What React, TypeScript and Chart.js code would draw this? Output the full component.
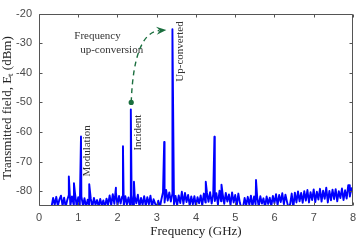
import React, { useEffect, useRef } from 'react';
import { Chart, registerables } from 'chart.js';

Chart.register(...registerables);

// ---- data ----
const noiseStartGHz = 0.32;
const noiseStepGHz = 0.04;
const noiseLevels = [
  -85.2, -82.3, -84.6, -81.9, -85.0, -82.8, -81.5, -84.9, -82.2, -85.3,
  -83.0, -81.3, -84.8, -81.8, -84.4, -81.0, -85.1, -82.0, -84.5, -81.8,
  -84.9, -82.4, -85.4, -82.9, -84.7, -82.6, -85.2, -82.3, -84.6, -83.0,
  -85.3, -82.6, -84.8, -83.1, -85.5, -82.5, -84.6, -81.4, -84.8, -81.0,
  -84.3, -80.4, -84.9, -81.6, -84.2, -81.8, -85.0, -81.7, -84.5, -82.1,
  -84.8, -81.3, -85.0, -81.8, -84.1, -81.2, -85.2, -82.3, -84.6, -81.7,
  -85.0, -82.0, -84.4, -81.5, -85.3, -82.7, -84.2, -85.4, -83.2, -85.5,
  -82.7, -80.3, -83.8, -79.6, -83.2, -80.4, -83.5, -80.8, -84.4, -81.6,
  -84.8, -81.4, -84.0, -80.2, -84.3, -80.6, -83.7, -81.3, -84.9, -81.8,
  -84.4, -81.7, -85.1, -82.0, -84.1, -81.4, -84.8, -80.8, -83.8, -80.5,
  -83.6, -80.3, -84.2, -81.0, -83.3, -80.7, -84.5, -79.8, -83.4, -80.9,
  -84.3, -80.6, -83.5, -81.1, -84.7, -80.4, -83.8, -81.3, -84.8, -80.8,
  -84.0, -85.8, -85.5, -82.3, -84.8, -81.9, -84.6, -81.5, -85.2, -81.8,
  -84.4, -82.0, -85.2, -81.7, -84.2, -82.4, -85.4, -81.8, -84.3, -82.2,
  -85.0, -81.6, -84.1, -81.0, -84.7, -81.3, -83.7, -80.7, -84.4, -81.2,
  -83.6, -85.8, -84.3, -80.8, -85.8, -80.5, -83.8, -80.1, -83.4, -80.6,
  -83.9, -80.0, -83.2, -79.6, -83.8, -80.3, -83.0, -79.4, -83.7, -80.2,
  -82.8, -79.2, -83.5, -79.8, -82.6, -78.8, -83.8, -79.9, -83.1, -79.5,
  -82.7, -79.3, -83.4, -80.0, -82.3, -79.1, -83.0, -79.7, -82.5, -78.0,
  -81.8, -79.0, -80.5,
];
const peakFreqs = [0.76, 0.89, 1.07, 1.28, 1.96, 2.14, 2.34, 2.42, 3.19, 3.40, 4.25, 4.47, 4.65, 5.53, 7.9];
const peakLevels = [-75.0, -77.3, -61.5, -77.6, -78.8, -64.8, -52.4, -76.8, -63.4, -25.3, -76.8, -61.6, -77.8, -76.2, -78.0];

const xTicks = [0, 1, 2, 3, 4, 5, 6, 7, 8];
const yTicks = [-80, -70, -60, -50, -40, -30, -20];
const xRange = [0, 8];
const yRange = [-85, -20];

const xTitle = 'Frequency (GHz)';
const yTitleMain = 'Transmitted field, E';
const yTitleSub = 't';
const yTitleTail = ' (dBm)';

const arrowStart = { x: 2.35, y: -50 };
const arrowCtrl = { x: 2.415, y: -26.5 };
const arrowEnd = { x: 3.245, y: -25.5 };

const textLabels = [
  { text: 'Frequency', x: 0.9, y: -27.7, rot: false },
  { text: 'up-conversion', x: 1.05, y: -32.3, rot: false },
  { text: 'Modulation', x: 1.233, y: -66.4, rot: true },
  { text: 'Incident', x: 2.53, y: -60.2, rot: true },
  { text: 'Up-converted', x: 3.585, y: -32.8, rot: true },
];

const SERIF = '"Liberation Serif", "Times New Roman", serif';
const SANS = '"Liberation Sans", Arial, sans-serif';

const overlayPlugin = {
  id: 'overlay',
  afterDatasetsDraw(chart: any) {
    const { ctx, chartArea: a, scales } = chart;
    const xs = scales.x;
    const ys = scales.y;
    ctx.save();
    // box
    ctx.strokeStyle = '#555555';
    ctx.lineWidth = 1;
    const L = Math.round(a.left) + 0.5;
    const R = Math.round(a.right) - 0.5;
    const T = Math.round(a.top) + 0.5;
    const B = Math.round(a.bottom) - 0.5;
    ctx.beginPath();
    ctx.rect(L, T, R - L, B - T);
    ctx.stroke();
    // inward ticks
    const tl = 3;
    ctx.beginPath();
    xTicks.forEach((v) => {
      const px = Math.round(xs.getPixelForValue(v)) + 0.5;
      ctx.moveTo(px, B);
      ctx.lineTo(px, B - tl);
      ctx.moveTo(px, T);
      ctx.lineTo(px, T + tl);
    });
    yTicks.forEach((v) => {
      const py = Math.round(ys.getPixelForValue(v)) + 0.5;
      ctx.moveTo(L, py);
      ctx.lineTo(L + tl, py);
      ctx.moveTo(R, py);
      ctx.lineTo(R - tl, py);
    });
    ctx.stroke();

    // annotation texts
    ctx.fillStyle = '#333333';
    ctx.font = `11px ${SERIF}`;
    textLabels.forEach((t) => {
      const px = xs.getPixelForValue(t.x);
      const py = ys.getPixelForValue(t.y);
      ctx.save();
      ctx.translate(px, py);
      if (t.rot) {
        ctx.rotate(-Math.PI / 2);
        ctx.textAlign = 'center';
      } else {
        ctx.textAlign = 'left';
      }
      ctx.textBaseline = 'middle';
      ctx.fillText(t.text, 0, 0);
      ctx.restore();
    });

    // arrow
    const green = '#1a6e3e';
    const p0 = { x: xs.getPixelForValue(arrowStart.x), y: ys.getPixelForValue(arrowStart.y) };
    const c = { x: xs.getPixelForValue(arrowCtrl.x), y: ys.getPixelForValue(arrowCtrl.y) };
    const p2 = { x: xs.getPixelForValue(arrowEnd.x), y: ys.getPixelForValue(arrowEnd.y) };
    const dx = p2.x - c.x;
    const dy = p2.y - c.y;
    const len = Math.hypot(dx, dy);
    const ux = dx / len;
    const uy = dy / len;
    const headLen = 10;
    const headW = 4;
    const base = { x: p2.x - ux * headLen * 0.7, y: p2.y - uy * headLen * 0.7 };
    ctx.strokeStyle = green;
    ctx.lineWidth = 1.4;
    ctx.setLineDash([5, 4]);
    ctx.beginPath();
    ctx.moveTo(p0.x, p0.y);
    ctx.quadraticCurveTo(c.x, c.y, base.x, base.y);
    ctx.stroke();
    ctx.setLineDash([]);
    ctx.fillStyle = green;
    ctx.beginPath();
    ctx.moveTo(p2.x, p2.y);
    ctx.lineTo(p2.x - ux * headLen - uy * headW, p2.y - uy * headLen + ux * headW);
    ctx.lineTo(p2.x - ux * headLen * 0.65, p2.y - uy * headLen * 0.65);
    ctx.lineTo(p2.x - ux * headLen + uy * headW, p2.y - uy * headLen - ux * headW);
    ctx.closePath();
    ctx.fill();
    ctx.beginPath();
    ctx.arc(p0.x, p0.y, 2.6, 0, Math.PI * 2);
    ctx.fill();

    // axis titles
    ctx.fillStyle = '#222222';
    ctx.font = `13px ${SERIF}`;
    ctx.textAlign = 'center';
    ctx.textBaseline = 'middle';
    ctx.fillText(xTitle, (a.left + a.right) / 2, 232);

    ctx.save();
    ctx.translate(8, 108);
    ctx.rotate(-Math.PI / 2);
    ctx.textAlign = 'left';
    ctx.font = `13px ${SERIF}`;
    const w1 = ctx.measureText(yTitleMain).width;
    const w3 = ctx.measureText(yTitleTail).width;
    ctx.font = `9px ${SERIF}`;
    const w2 = ctx.measureText(yTitleSub).width;
    const total = w1 + w2 + w3;
    let cx = -total / 2;
    ctx.font = `13px ${SERIF}`;
    ctx.fillText(yTitleMain, cx, 0);
    cx += w1;
    ctx.font = `9px ${SERIF}`;
    ctx.fillText(yTitleSub, cx, 3);
    cx += w2;
    ctx.font = `13px ${SERIF}`;
    ctx.fillText(yTitleTail, cx, 0);
    ctx.restore();

    ctx.restore();
  },
};

export default function App() {
  const ref = useRef<HTMLCanvasElement | null>(null);

  useEffect(() => {
    document.body.style.margin = '0';
    const canvas = ref.current;
    if (!canvas) return;

    const pts: { x: number; y: number }[] = noiseLevels.map((v, i) => ({
      x: noiseStartGHz + i * noiseStepGHz,
      y: v,
    }));
    peakFreqs.forEach((f, i) => pts.push({ x: f, y: peakLevels[i] }));
    pts.sort((p, q) => p.x - q.x);

    const chart = new Chart(canvas, {
      type: 'line',
      data: {
        datasets: [
          {
            data: pts,
            borderColor: '#0000ff',
            borderWidth: 1.9,
            borderJoinStyle: 'round',
            pointRadius: 0,
            tension: 0,
            fill: false,
          },
        ],
      },
      options: {
        animation: false,
        responsive: false,
        maintainAspectRatio: false,
        events: [],
        layout: { padding: { top: 5, right: 4, left: 0, bottom: 0 } },
        plugins: { legend: { display: false }, tooltip: { enabled: false }, title: { display: false } },
        scales: {
          x: {
            type: 'linear',
            min: xRange[0],
            max: xRange[1],
            grid: { display: false, drawTicks: false, tickLength: 0 },
            border: { display: false },
            ticks: {
              color: '#4a4a4a',
              font: { family: SANS, size: 11 },
              padding: 5,
              maxRotation: 0,
              autoSkip: false,
            },
            afterBuildTicks: (s: any) => {
              s.ticks = xTicks.map((v) => ({ value: v }));
            },
            afterFit: (s: any) => {
              s.height = 34;
            },
          },
          y: {
            type: 'linear',
            min: yRange[0],
            max: yRange[1],
            grid: { display: false, drawTicks: false, tickLength: 0 },
            border: { display: false },
            ticks: {
              color: '#4a4a4a',
              font: { family: SANS, size: 11 },
              padding: 7,
              autoSkip: false,
            },
            afterBuildTicks: (s: any) => {
              s.ticks = yTicks.map((v) => ({ value: v }));
            },
            afterFit: (s: any) => {
              s.width = 39;
            },
          },
        },
      },
      plugins: [overlayPlugin],
    } as any);

    return () => chart.destroy();
  }, []);

  return (
    <div style={{ width: 361, height: 240, background: '#ffffff' }}>
      <canvas ref={ref} width={361} height={240} style={{ display: 'block' }} />
    </div>
  );
}
